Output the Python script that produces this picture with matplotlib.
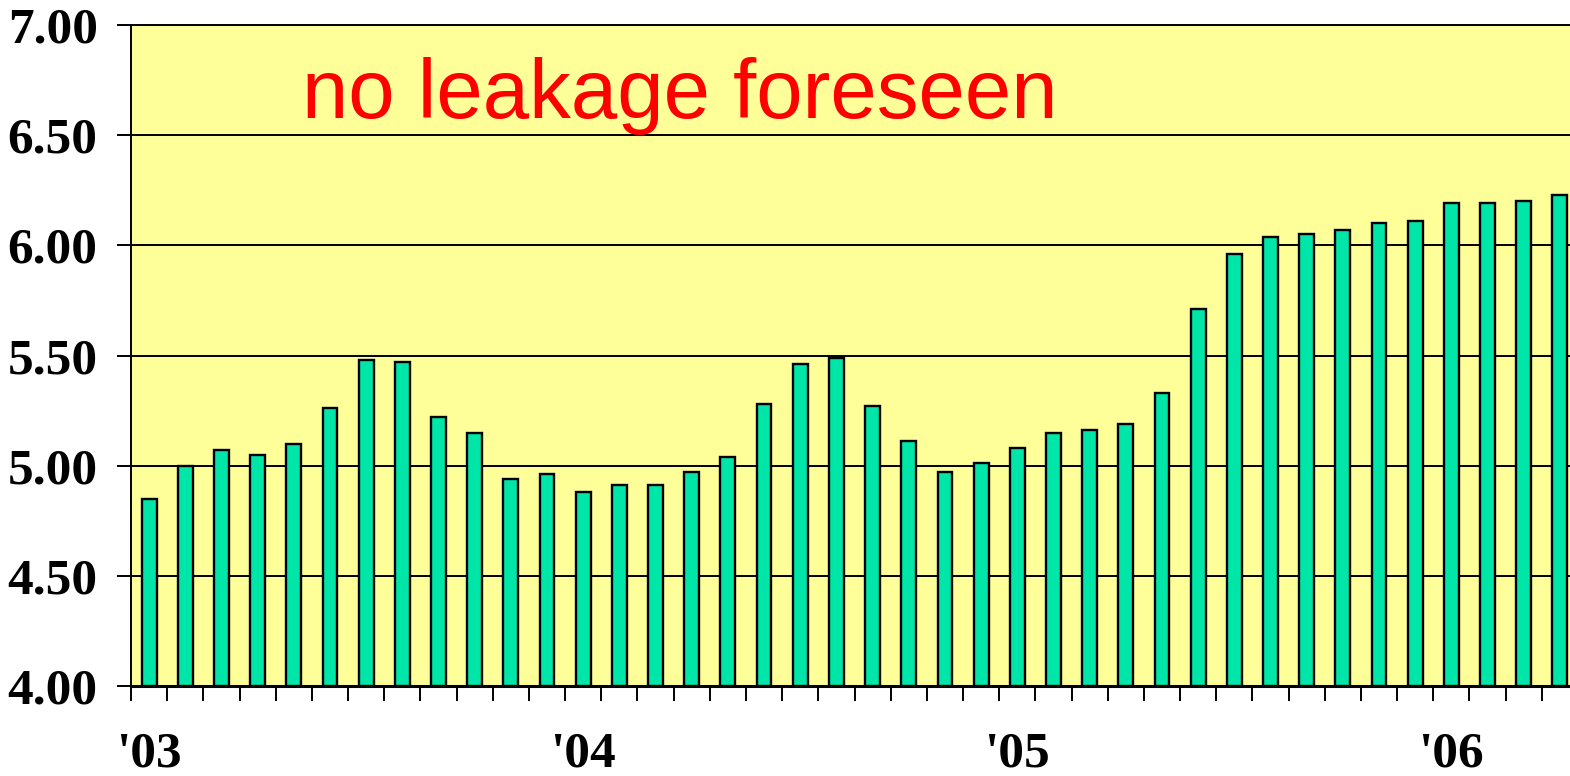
import matplotlib
matplotlib.use("Agg")
import matplotlib.pyplot as plt
import numpy as np

values = [4.85, 5.00, 5.07, 5.05, 5.10, 5.26, 5.48, 5.47, 5.22, 5.15, 4.94, 4.96,
          4.88, 4.91, 4.91, 4.97, 5.04, 5.28, 5.46, 5.49, 5.27, 5.11, 4.97, 5.01,
          5.08, 5.15, 5.16, 5.19, 5.33, 5.71, 5.96, 6.04, 6.05, 6.07, 6.10, 6.11,
          6.19, 6.19, 6.20, 6.23]
year_labels = ["'03", "'04", "'05", "'06"]
yticks = [4.0, 4.5, 5.0, 5.5, 6.0, 6.5, 7.0]
title_text = "no leakage foreseen"

W, H = 1570, 776
fig = plt.figure(figsize=(W / 100, H / 100), dpi=100)
left, right, top, bottom = 131, 1578, 25, 686
ax = fig.add_axes([left / W, (H - bottom) / H, (right - left) / W, (bottom - top) / H])
ax.set_facecolor("#FFFF99")

x = np.arange(len(values)) + 0.5
ax.bar(x, np.array(values) - 4.0, bottom=4.0, width=0.41, color="#00E6A8",
       edgecolor="black", linewidth=1.7, zorder=3)

ax.set_xlim(0, 40)
ax.set_ylim(4.0, 7.0)
ax.set_yticks(yticks)
ax.set_yticklabels([f"{v:.2f}" for v in yticks], fontfamily="Liberation Serif",
                   fontweight="bold", fontsize=37)
ax.yaxis.grid(True, color="black", linewidth=1.4, zorder=1)
ax.set_axisbelow(True)

ax.set_xticks(np.arange(0, 40))
ax.set_xticklabels([])
ax.set_xticks([0.5 + 12 * i for i in range(len(year_labels))], minor=True)
ax.set_xticklabels(year_labels, minor=True, fontfamily="Liberation Serif",
                   fontweight="bold", fontsize=37)
ax.tick_params(axis="x", which="major", direction="out", length=11, width=1.4, color="black")
ax.tick_params(axis="x", which="minor", length=0, pad=33)
ax.tick_params(axis="y", direction="out", length=10, width=1.4, pad=14)

for s in ["left", "bottom", "top"]:
    ax.spines[s].set_color("black")
    ax.spines[s].set_linewidth(1.4)
ax.spines["bottom"].set_linewidth(2.2)
ax.spines["right"].set_visible(False)

ax.text(4.73, 6.58, title_text, color="#FF0000", fontfamily="Liberation Sans",
        fontsize=60, va="baseline", ha="left", zorder=4)

fig.savefig("out.png", dpi=100)
